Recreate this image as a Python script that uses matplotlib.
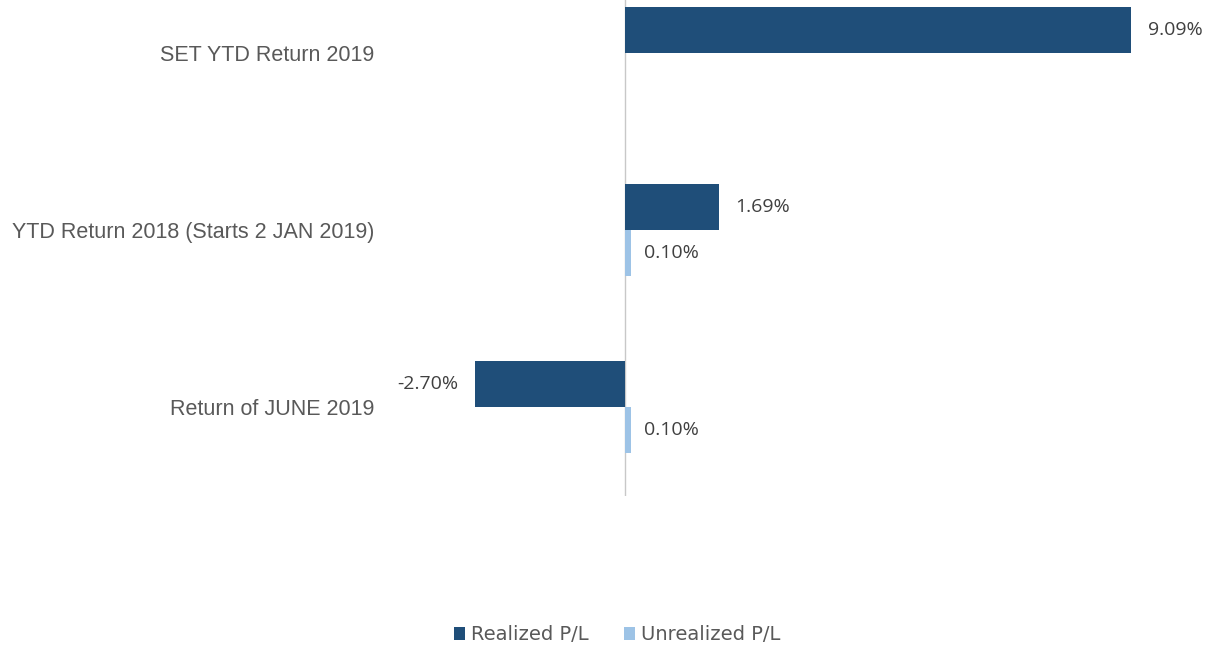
import numpy as np
import matplotlib.pyplot as plt

categories = ['SET YTD Return 2019', 'YTD Return 2018 (Starts 2 JAN 2019)', 'Return of JUNE 2019']
realized = [9.09, 1.69, -2.70]
unrealized = [0.0, 0.10, 0.10]

dark = '#1F4E79'
light = '#9DC3E6'

fig = plt.figure(figsize=(12.13, 6.48), dpi=100)
# axes top runs past the figure edge, like the cropped original
ax = fig.add_axes([385/1213, 152.5/648, 815/1213, 566/648])

y = np.arange(len(categories))
h = 0.26
ax.barh(y - h/2, realized, height=h, color=dark, label='Realized P/L')
ax.barh(y + h/2, unrealized, height=h, color=light, label='Unrealized P/L')

ax.set_xlim(-4.31, 10.33)
ax.set_ylim(2.5, -0.7)
ax.axvline(0, color='#c8c8c8', lw=1, zorder=0)

lbl = dict(va='center', fontsize=14, color='#404040', family='Open Sans',
           textcoords='offset points')
for i, v in enumerate(realized):
    if v >= 0:
        ax.annotate(f'{v:.2f}%', (v, i - h/2), xytext=(12, 0), ha='left', **lbl)
    else:
        ax.annotate(f'{v:.2f}%', (v, i - h/2), xytext=(-12, 0), ha='right', **lbl)
for i, v in enumerate(unrealized):
    if v != 0:
        ax.annotate(f'{v:.2f}%', (v, i + h/2), xytext=(10, 0), ha='left', **lbl)

ax.set_yticks(y)
ax.set_yticklabels(categories, fontsize=15.5, color='#595959', family='Liberation Sans')
ax.tick_params(axis='y', length=0, pad=8)
ax.set_xticks([])
for s in ax.spines.values():
    s.set_visible(False)

fig.legend(loc='center', bbox_to_anchor=(617/1213, 13/648), ncol=2, frameon=False,
           fontsize=14, handlelength=0.6, handleheight=0.6, handletextpad=0.3,
           columnspacing=1.8, labelcolor='#595959')

fig.savefig('out.png', dpi=100)
